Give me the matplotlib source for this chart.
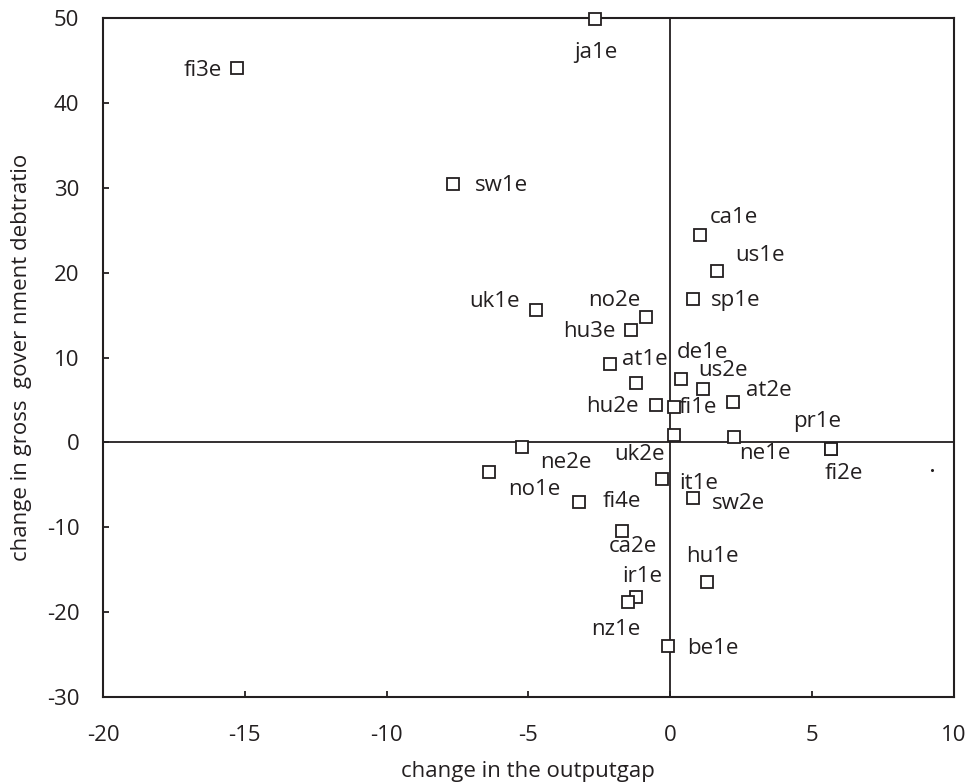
import matplotlib.pyplot as plt

# change in the output gap (x) vs change in gross government debt ratio (y)
labels = ["ja1e", "fi3e", "sw1e", "ca1e", "us1e", "sp1e", "uk1e", "no2e",
          "hu3e", "at1e", "de1e", "us2e", "at2e", "hu2e", "fi1e", "pr1e",
          "ne1e", "fi2e", "ne2e", "uk2e", "no1e", "it1e", "fi4e", "sw2e",
          "ca2e", "hu1e", "ir1e", "nz1e", "be1e"]
# points in the same order as labels (pr1e and fi2e share one point)
x_gap = [-2.63, -15.26, -7.65, 1.05, 1.67, 0.81, -4.72, -0.86,
         -1.37, -2.10, 0.40, 1.15, 2.22, -0.51, 0.14, 5.68,
         2.26, 5.68, -5.22, 0.14, -6.37, -0.29, -3.22, 0.81,
         -1.68, 1.30, -1.21, -1.47, -0.06]
y_debt = [49.9, 44.1, 30.4, 24.4, 20.2, 16.85, 15.6, 14.8,
          13.2, 9.2, 7.43, 6.29, 4.8, 4.4, 4.13, -0.81,
          0.6, -0.81, -0.5, 0.87, -3.45, -4.35, -6.98, -6.5,
          -10.5, -16.4, -18.2, -18.8, -24.0]
# unlabelled point
x_extra = [-1.21]
y_extra = [6.96]
# stray dot near the right edge
x_dot = [9.25]
y_dot = [-3.2]

# label offsets in pixels (dx, dy) from each point
offsets = {
    "ja1e": (0, -34), "fi3e": (-35, -2), "sw1e": (48, -1), "ca1e": (34, 18),
    "us1e": (43, 15), "sp1e": (43, -1), "uk1e": (-42, 8), "no2e": (-31, 16),
    "hu3e": (-42, -1), "at1e": (34, 5), "de1e": (21, 27), "us2e": (20, 18),
    "at2e": (36, 11), "hu2e": (-43, -1), "fi1e": (24, 0), "pr1e": (-14, 28),
    "ne1e": (31, -16), "fi2e": (13, -24), "ne2e": (44, -16), "uk2e": (-35, -20),
    "no1e": (45, -18), "it1e": (37, -4), "fi4e": (43, 0), "sw2e": (45, -6),
    "ca2e": (10, -15), "hu1e": (5, 25), "ir1e": (7, 20), "nz1e": (-13, -28),
    "be1e": (44, -2),
}

plt.rcParams["font.family"] = ["Open Sans", "DejaVu Sans"]
plt.rcParams["axes.unicode_minus"] = False
fig = plt.figure(figsize=(9.72, 7.84), dpi=100)
ax = fig.add_axes([0.106, 0.111, 0.875, 0.866])

col = "#231f20"
fs = 16
ax.axhline(0, color=col, lw=1.3, zorder=1)
ax.axvline(0, color=col, lw=1.3, zorder=1)

ax.plot(x_gap, y_debt, ls="none", marker="s", ms=9.3, mfc="white",
        mec=col, mew=1.3, zorder=3, clip_on=False)
ax.plot(x_extra, y_extra, ls="none", marker="s", ms=9.3, mfc="white",
        mec=col, mew=1.3, zorder=3)
ax.plot(x_dot, y_dot, ls="none", marker="o", ms=1.2, color=col, zorder=3)

for name, xv, yv in zip(labels, x_gap, y_debt):
    dx, dy = offsets[name]
    ax.annotate(name, (xv, yv), xytext=(dx, dy), textcoords="offset pixels",
                ha="center", va="center", fontsize=fs, color=col, zorder=4)

ax.set_xlim(-20, 10)
ax.set_ylim(-30, 50)
ax.set_xticks(range(-20, 11, 5))
ax.set_yticks(range(-30, 51, 10))
ax.tick_params(direction="in", length=4, width=1.3, colors=col, labelsize=fs)
ax.tick_params(axis="x", pad=20)
ax.tick_params(axis="y", pad=17)
for s in ax.spines.values():
    s.set_linewidth(1.5)
    s.set_color(col)

ax.set_xlabel("change in the outputgap", fontsize=fs, color=col, labelpad=11)
ax.set_ylabel("change in gross  gover nment debtratio", fontsize=fs,
              color=col, labelpad=11)

fig.savefig("out.png", dpi=100)
